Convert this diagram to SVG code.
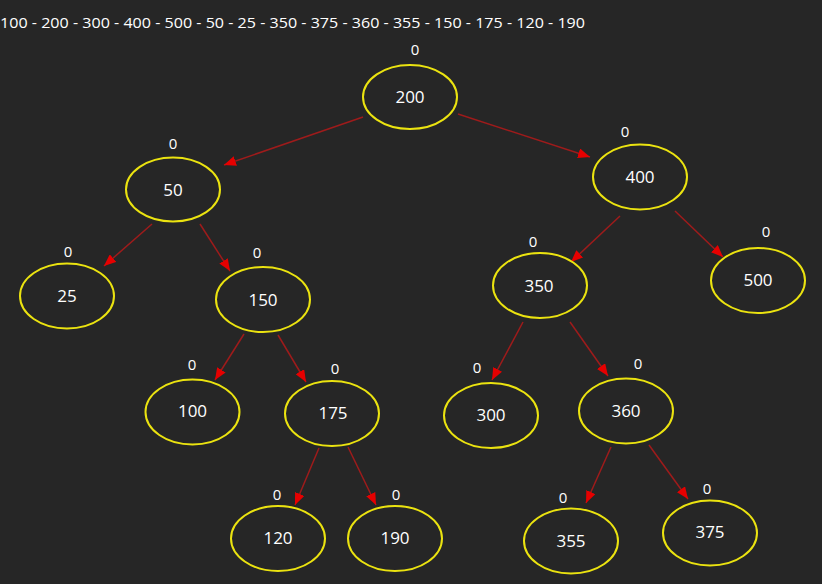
<svg xmlns="http://www.w3.org/2000/svg" width="822" height="584" viewBox="0 0 822 584">
<style>
.bg{fill:#262626}
.node ellipse{fill:none;stroke:#ebe310;stroke-width:2}
.lbl{font-family:"Open Sans","Liberation Sans",sans-serif;font-size:17px;fill:#ffffff;text-anchor:middle}
.bal{font-family:"Open Sans","Liberation Sans",sans-serif;font-size:15px;fill:#ffffff;text-anchor:middle}
.title{font-family:"Open Sans","Liberation Sans",sans-serif;font-size:15px;fill:#ffffff}
#edges line{stroke:#9e1b1b;stroke-width:1.5;marker-end:url(#arr)}
</style>
<defs>
<marker id="arr" viewBox="0 0 12 10" refX="12" refY="5" markerWidth="12" markerHeight="10" markerUnits="userSpaceOnUse" orient="auto">
<path d="M0,0 L12,5 L0,10 z" fill="#e60000"/>
</marker>
</defs>
<rect class="bg" x="0" y="0" width="822" height="584"/>
<text class="title" x="0" y="28" textLength="585" lengthAdjust="spacingAndGlyphs">100 - 200 - 300 - 400 - 500 - 50 - 25 - 350 - 375 - 360 - 355 - 150 - 175 - 120 - 190</text>
<g id="edges">
<line x1="363" y1="117" x2="224" y2="165"/>
<line x1="458" y1="114" x2="590" y2="157"/>
<line x1="152" y1="224" x2="104" y2="266"/>
<line x1="200" y1="224" x2="230" y2="271"/>
<line x1="620" y1="216" x2="571" y2="262"/>
<line x1="675" y1="211" x2="723" y2="257"/>
<line x1="244" y1="334" x2="215" y2="380"/>
<line x1="278" y1="335" x2="306" y2="382"/>
<line x1="523" y1="322" x2="492" y2="380"/>
<line x1="570" y1="322" x2="608" y2="376"/>
<line x1="319" y1="448" x2="295" y2="505"/>
<line x1="348" y1="447" x2="376" y2="505"/>
<line x1="611" y1="447" x2="586" y2="503"/>
<line x1="649" y1="445" x2="688" y2="499"/>
</g>
<g id="n200" class="node"><ellipse cx="410" cy="97" rx="47" ry="32"/><text class="lbl" x="410" y="103">200</text><text class="bal" x="415" y="55">0</text></g>
<g id="n50" class="node"><ellipse cx="173" cy="189.5" rx="47" ry="32"/><text class="lbl" x="173" y="195.5">50</text><text class="bal" x="173" y="149">0</text></g>
<g id="n400" class="node"><ellipse cx="640" cy="177" rx="47" ry="32.5"/><text class="lbl" x="640" y="183">400</text><text class="bal" x="625" y="137">0</text></g>
<g id="n25" class="node"><ellipse cx="67" cy="296" rx="47" ry="32.5"/><text class="lbl" x="67" y="302">25</text><text class="bal" x="68" y="257">0</text></g>
<g id="n150" class="node"><ellipse cx="263" cy="299.5" rx="47" ry="32.5"/><text class="lbl" x="263" y="305.5">150</text><text class="bal" x="257" y="258">0</text></g>
<g id="n350" class="node"><ellipse cx="540" cy="285.5" rx="47" ry="32.5"/><text class="lbl" x="539" y="291.5">350</text><text class="bal" x="533" y="247">0</text></g>
<g id="n500" class="node"><ellipse cx="758" cy="280.5" rx="47" ry="32.5"/><text class="lbl" x="758" y="286">500</text><text class="bal" x="766" y="237">0</text></g>
<g id="n100" class="node"><ellipse cx="192.5" cy="412" rx="47" ry="32.5"/><text class="lbl" x="192.5" y="417">100</text><text class="bal" x="192" y="370">0</text></g>
<g id="n175" class="node"><ellipse cx="332" cy="413.5" rx="47" ry="32.5"/><text class="lbl" x="333" y="418.5">175</text><text class="bal" x="335" y="374">0</text></g>
<g id="n300" class="node"><ellipse cx="491" cy="415.5" rx="47" ry="32.5"/><text class="lbl" x="491" y="420.5">300</text><text class="bal" x="477" y="373">0</text></g>
<g id="n360" class="node"><ellipse cx="626" cy="411" rx="47" ry="32.5"/><text class="lbl" x="626" y="417">360</text><text class="bal" x="638" y="369">0</text></g>
<g id="n120" class="node"><ellipse cx="278" cy="538.5" rx="47" ry="32.5"/><text class="lbl" x="278" y="544">120</text><text class="bal" x="277" y="500">0</text></g>
<g id="n190" class="node"><ellipse cx="395" cy="538.5" rx="47" ry="32.5"/><text class="lbl" x="395" y="544">190</text><text class="bal" x="396" y="500">0</text></g>
<g id="n355" class="node"><ellipse cx="571" cy="541" rx="47" ry="32.5"/><text class="lbl" x="571" y="547">355</text><text class="bal" x="563" y="503">0</text></g>
<g id="n375" class="node"><ellipse cx="710" cy="533" rx="47" ry="32.5"/><text class="lbl" x="710" y="538">375</text><text class="bal" x="707" y="494">0</text></g>
</svg>
